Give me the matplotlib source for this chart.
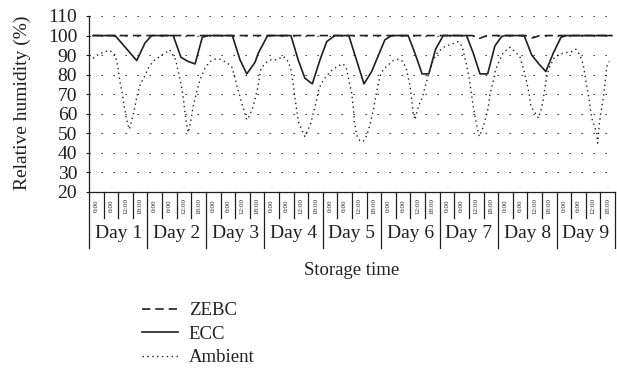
import numpy as np
import matplotlib
matplotlib.use("Agg")
import matplotlib.pyplot as plt

plt.rcParams['font.family'] = ['Liberation Serif', 'DejaVu Serif']

# hours since start of day 1, relative humidity (%)
zebc_h = [0, 158, 161, 164, 180, 183, 186, 216]
zebc_rh = [100, 100, 98.6, 100, 100, 98.8, 100, 100]

ecc_h = [0, 9.2, 18.2, 21.6, 24.4, 33.4, 36.6, 39.7, 42.5, 45.5, 48,
         58, 61.2, 64, 67.4, 68.8, 72.7, 82.4, 85.4, 88.2, 91.3, 94.5, 97.3, 100.7,
         106.5, 112.8, 116, 121.5, 123.6, 125, 131.2, 134, 137, 139.8, 142.6, 145.8,
         155.5, 158.3, 161.1, 164.3, 167.3, 170.1, 171.5, 179.5, 182.6, 185.6, 188.5,
         191.6, 194.8, 197, 216]
ecc_rh = [100, 100, 87.2, 96.1, 100, 100, 88.9, 86.7, 85.5, 99.1, 100,
          100, 87.6, 80.4, 86.2, 91, 100, 100, 87.6, 78.2, 75.3, 87.6, 96.9, 100,
          100, 75.3, 81.6, 97.8, 99.5, 100, 100, 91, 80.4, 80.4, 93, 100,
          100, 91, 80.4, 80.4, 94.7, 99.5, 100, 100, 90.1, 85.5, 81.6,
          91, 99.1, 100, 100]

amb_h = [0, 2.5, 5, 7.1, 9.2, 9.9, 10.5, 11.2, 12.2, 13, 14, 15.1, 15.8, 17.2,
         18.2, 19.6, 21.4, 23, 25.1, 27.9, 30, 32, 34.4, 35.5, 36.6, 37.6, 38.3,
         39, 39.7, 40.8, 41.7, 43.2, 44.5, 46.6, 48.7, 50.8, 52.9, 55.6, 57.7,
         58.8, 59.8, 60.8, 61.9, 63, 64, 65.3, 66.4, 67.4, 68.5, 69.9, 71.6, 74.1,
         76.4, 79.3, 81.3, 82.4, 83.4, 84.1, 84.8, 85.5, 86.9, 88.2, 89.4, 90.7,
         91.7, 93.1, 94.1, 95.9, 98, 99.6, 102.1, 104.2, 105.6, 106.5, 107.7,
         108.4, 108.8, 109.7, 111.1, 112.5, 113.9, 115.3, 116.7, 118.1, 119.4,
         120.8, 122.9, 125, 127.1, 129.1, 130.5, 131.9, 132.6, 133.3, 134, 134.7,
         135.7, 137, 138.1, 139.6, 141.6, 143.7, 146.5, 149.5, 152, 153.7, 155.5,
         156.5, 157.3, 158.3, 159.7, 160.8, 162.5, 164.5, 165.2, 166.6, 167.6,
         169, 170.8, 173.6, 175.6, 177.7, 179.1, 180.5, 181.5, 182.3, 183.7, 185.4,
         186.5, 187.4, 188.1, 188.8, 189.8, 192.3, 195.7, 199.2, 201, 202.7, 204.1,
         205.1, 206.2, 206.9, 207.6, 208.7, 209.7, 210.1, 210.7, 211.5, 212.5,
         213.2, 213.9, 214.9]
amb_rh = [88.4, 90.5, 91.8, 92.3, 90, 86.7, 82.8, 76.5, 70.5, 63.7, 56.9, 52.1,
          55.2, 62, 68.5, 74.8, 79, 83.3, 87, 89.3, 91, 92.7, 87.6, 81.6, 75.6,
          68, 60.3, 54.3, 50.4, 56.9, 63.7, 71.4, 77.3, 83.3, 86.7, 87.9, 87.9,
          86.2, 84.2, 79.9, 74.8, 70.5, 65.4, 61.2, 56.9, 59.4, 62.9, 67.1, 73,
          82.8, 85.9, 87.6, 87.6, 89.3, 86.7, 82.5, 74.8, 68, 62, 56, 51.8, 48.4,
          51.4, 55.2, 60.3, 67.1, 73, 77.3, 80.4, 82.5, 84.5, 85.5, 82.8, 77.3,
          70.5, 62.9, 56, 49.2, 46.3, 45.8, 48.7, 54.3, 62, 71.4, 79, 82.5, 85,
          87.2, 87.9, 86.7, 82.5, 74.8, 68, 60.3, 56.9, 60.3, 64.6, 68, 73, 79.9,
          87.6, 91.8, 94.4, 95.7, 96.9, 94.4, 85, 79, 72.2, 63.7, 54.3, 48.4, 53.5,
          62.9, 69.7, 76.5, 82.5, 86.7, 91.3, 94, 91.8, 89.3, 83.3, 76.5, 70.5,
          63.7, 61.2, 57.8, 62, 67.1, 73, 78.2, 83.3, 89.3, 91, 91.8, 93, 90.1,
          85, 77.3, 69.7, 63.7, 57.8, 53.8, 50.1, 45, 54.3, 61.2, 68.8, 76.5, 84.2,
          86.7]

days = ['Day 1', 'Day 2', 'Day 3', 'Day 4', 'Day 5', 'Day 6', 'Day 7', 'Day 8', 'Day 9']
times = ['0:00', '6:00', '12:00', '18:00']
yticks = [20, 30, 40, 50, 60, 70, 80, 90, 100, 110]

ink = '#231f20'
fig = plt.figure(figsize=(6.17, 3.79), dpi=100)
ax = fig.add_axes([89/617, 1-192/379, 526/617, 176/379])

xmin, xmax = -1.66, 217.3
ax.set_xlim(xmin, xmax)
ax.set_ylim(20, 110)

for y in yticks[1:]:
    ax.axhline(y, color=ink, lw=0.8, ls=(0, (1.2, 9.6)), zorder=0)

l1, = ax.plot(zebc_h, zebc_rh, color=ink, lw=1.2, ls=(0, (5, 3)), label='ZEBC')
l2, = ax.plot(ecc_h, ecc_rh, color=ink, lw=1.2, label='ECC')
l3, = ax.plot(amb_h, amb_rh, color=ink, lw=1.0, ls=(0, (1, 2.5)), label='Ambient')

ax.set_yticks(yticks)
ax.set_yticklabels([str(v) for v in yticks], fontsize=14)
ax.tick_params(axis='y', length=2.5, width=0.8, pad=6, colors=ink)
ax.set_xticks([])
for s in ['top', 'right']:
    ax.spines[s].set_visible(False)
for s in ['left', 'bottom']:
    ax.spines[s].set_color(ink)
    ax.spines[s].set_linewidth(0.9)

# multi-level category axis below the plot
tr = ax.get_xaxis_transform()
ncell = len(days) * len(times)
edges = np.linspace(xmin, xmax, ncell + 1)
for i, e in enumerate(edges):
    low = -0.318 if i % len(times) == 0 else -0.148
    ax.plot([e, e], [0, low], transform=tr, color=ink, lw=0.9, clip_on=False)
for i in range(ncell):
    c = (edges[i] + edges[i + 1]) / 2
    ax.text(c, -0.08, times[i % len(times)], transform=tr, rotation=90,
            fontsize=5, ha='center', va='center', color=ink)
for d, name in enumerate(days):
    c = (edges[d * 4] + edges[d * 4 + 4]) / 2
    ax.text(c, -0.235, name, transform=tr, fontsize=14, ha='center',
            va='center', color=ink)

ax.text(0.5, -0.445, 'Storage time', transform=ax.transAxes, fontsize=13.5,
        ha='center', va='center', color=ink)
fig.text(22/617, 1-103/379, 'Relative humidity (%)', rotation=90, fontsize=14,
         ha='center', va='center', color=ink)

fig.legend(handles=[l1, l2, l3], loc='upper left', bbox_to_anchor=(142/617, 1-302/379),
           frameon=False, fontsize=13.5, handlelength=1.9, handletextpad=0.6,
           labelspacing=0.35, borderpad=0, borderaxespad=0, labelcolor=ink)

fig.savefig('out.png', dpi=100)
